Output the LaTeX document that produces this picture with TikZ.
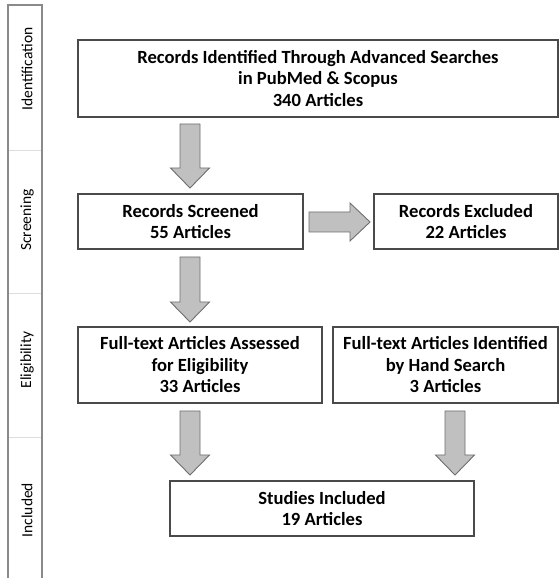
\documentclass[tikz,border=0pt]{standalone}
\usepackage{fontspec}
\setmainfont{Carlito}
\usetikzlibrary{calc}
\definecolor{boxline}{HTML}{4A4A4A}
\definecolor{arrfill}{HTML}{C0C0C0}
\definecolor{arrline}{HTML}{6E6E6E}
\definecolor{stripline}{HTML}{8A8A8A}
\definecolor{divline}{HTML}{DDDDDD}
\tikzset{
  box/.style={draw=boxline, line width=1.1pt, fill=white, align=center,
    font=\fontsize{18.6}{21.5}\selectfont\bfseries, inner sep=0pt},
  phase/.style={rotate=90, font=\fontsize{15.5}{17}\selectfont, inner sep=0pt},
  blk/.style={draw=arrline, fill=arrfill, line width=0.9pt, line join=miter},
}
\newcommand\blkdown[2]{%
  \draw[blk] let \p1=(#1), \p2=(#2) in
    (\x1-10pt,\y1) -- (\x1+10pt,\y1) -- (\x1+10pt,\y2+20pt) -- (\x1+19.5pt,\y2+20pt)
    -- (\x1,\y2) -- (\x1-19.5pt,\y2+20pt) -- (\x1-10pt,\y2+20pt) -- cycle;}
\newcommand\blkright[2]{%
  \draw[blk] let \p1=(#1), \p2=(#2) in
    (\x1,\y1+10pt) -- (\x1,\y1-10pt) -- (\x2-20pt,\y1-10pt) -- (\x2-20pt,\y1-19pt)
    -- (\x2,\y1) -- (\x2-20pt,\y1+19pt) -- (\x2-20pt,\y1+10pt) -- cycle;}
\begin{document}
\begin{tikzpicture}[x=1pt,y=1pt]
\useasboundingbox (0,0) rectangle (559,578);
% phase strip
\draw[divline, line width=0.8pt] (9,428) -- (41,428) (9,285) -- (41,285) (9,141) -- (41,141);
\draw[stripline, line width=1.2pt] (8,-3) -- (8,573) -- (42,573) -- (42,-3);
\node[phase] (lid) at (27,509) {Identification};
\node[phase] (lsc) at (27,358) {Screening};
\node[phase] (lel) at (27,218) {Eligibility};
\node[phase] (lin) at (27,68) {Included};
% boxes
\node[box, minimum width=480pt, minimum height=77pt] (ident) at (318,499.5)
  {Records Identified Through Advanced Searches\\in PubMed \& Scopus\\340 Articles};
\node[box, minimum width=225pt, minimum height=55pt] (screen) at (190.5,356.5)
  {Records Screened\\55 Articles};
\node[box, minimum width=184pt, minimum height=55pt] (excl) at (466,356.5)
  {Records Excluded\\22 Articles};
\node[box, minimum width=244pt, minimum height=76pt] (elig) at (200,213)
  {Full-text Articles Assessed\\for Eligibility\\33 Articles};
\node[box, minimum width=225pt, minimum height=76pt] (hand) at (445.5,213)
  {Full-text Articles Identified\\by Hand Search\\3 Articles};
\node[box, minimum width=304pt, minimum height=55pt] (incl) at (322,69.5)
  {Studies Included\\19 Articles};
% arrow end points
\coordinate (a1t) at (190,454); \coordinate (a1h) at (190,390);
\coordinate (a2t) at (190,321); \coordinate (a2h) at (190,256);
\coordinate (a3t) at (190,167); \coordinate (a3h) at (190,103);
\coordinate (a4t) at (455,167); \coordinate (a4h) at (455,103);
\coordinate (a5t) at (309,356); \coordinate (a5h) at (370,356);
\blkdown{a1t}{a1h}
\blkdown{a2t}{a2h}
\blkdown{a3t}{a3h}
\blkdown{a4t}{a4h}
\blkright{a5t}{a5h}
\end{tikzpicture}
\end{document}
